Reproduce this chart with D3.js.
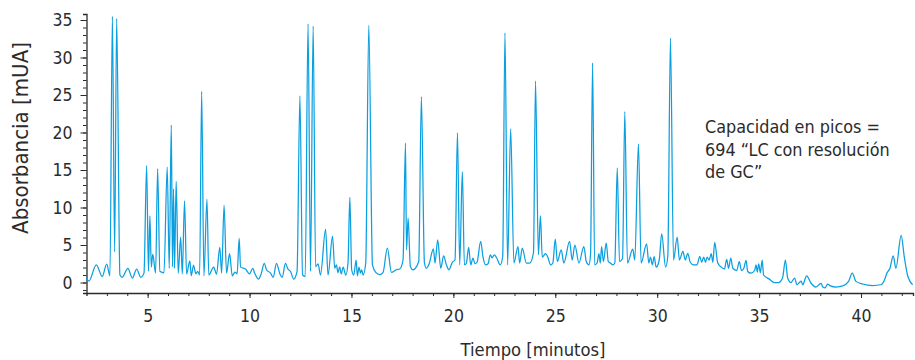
<!DOCTYPE html>
<html>
<head>
<meta charset="utf-8">
<script src="https://cdn.jsdelivr.net/npm/d3@7/dist/d3.min.js"></script>
<style>
  body { margin: 0; background: #fff; }
  svg text { font-family: 'Liberation Sans Narrow', 'DejaVu Sans Condensed', sans-serif; fill: #2b2b2b; }
</style>
</head>
<body>
<div id="chart"></div>
<script>
// retention time (min) and absorbance (mUA)
const times = [
  2.00, 2.12, 2.48, 2.77, 2.99, 3.15, 3.27, 3.38, 3.48, 3.64, 3.75, 4.03, 4.25, 4.46, 4.66, 4.82,
  4.95, 5.04, 5.11, 5.18, 5.25, 5.39, 5.49, 5.60, 5.80, 5.96, 6.06, 6.16, 6.22, 6.27, 6.32, 6.40,
  6.50, 6.62, 6.70, 6.81, 6.91, 7.07, 7.14, 7.25, 7.37, 7.45, 7.55, 7.65, 7.76, 7.91, 8.00, 8.24,
  8.38, 8.54, 8.63, 8.75, 8.87, 9.02, 9.15, 9.29, 9.39, 9.49, 9.56, 9.80, 10.00, 10.16, 10.25, 10.44,
  10.57, 10.72, 10.83, 11.03, 11.16, 11.32, 11.49, 11.60, 11.76, 11.88, 12.01, 12.17, 12.33, 12.47,
  12.60, 12.73, 12.87, 12.99, 13.12, 13.24, 13.36, 13.48, 13.73, 13.85, 14.07, 14.18, 14.26, 14.34,
  14.42, 14.50, 14.59, 14.72, 14.83, 14.92, 15.01, 15.11, 15.23, 15.29, 15.37, 15.44, 15.50, 15.57,
  15.70, 15.85, 16.03, 16.19, 16.39, 16.55, 16.76, 16.96, 17.20, 17.37, 17.53, 17.65, 17.70, 17.78,
  17.89, 18.02, 18.30, 18.43, 18.58, 18.68, 18.80, 19.02, 19.10, 19.23, 19.38, 19.52, 19.66, 19.78,
  19.95, 20.08, 20.20, 20.31, 20.44, 20.54, 20.64, 20.75, 20.85, 20.96, 21.06, 21.16, 21.34, 21.45,
  21.58, 21.70, 21.81, 21.90, 22.01, 22.12, 22.30, 22.42, 22.53, 22.66, 22.81, 22.97, 23.17, 23.25,
  23.38, 23.58, 23.75, 23.93, 24.03, 24.17, 24.27, 24.36, 24.44, 24.52, 24.63, 24.77, 24.88, 25.00,
  25.10, 25.29, 25.42, 25.70, 25.83, 25.96, 26.16, 26.40, 26.52, 26.65, 26.73, 26.83, 26.93, 27.05,
  27.14, 27.21, 27.27, 27.36, 27.50, 27.60, 27.70, 27.82, 27.92, 28.04, 28.15, 28.30, 28.41, 28.54,
  28.80, 28.90, 29.08, 29.21, 29.48, 29.59, 29.67, 29.76, 29.85, 29.95, 30.10, 30.22, 30.41, 30.52,
  30.65, 30.80, 30.98, 31.09, 31.26, 31.38, 31.50, 31.62, 31.79, 31.95, 32.09, 32.18, 32.28, 32.37,
  32.45, 32.55, 32.65, 32.73, 32.82, 32.97, 33.14, 33.30, 33.41, 33.50, 33.61, 33.71, 33.90, 34.03,
  34.13, 34.25, 34.36, 34.44, 34.60, 34.78, 34.85, 34.91, 34.98, 35.06, 35.15, 35.22, 35.50, 35.75,
  35.96, 36.15, 36.29, 36.40, 36.56, 36.74, 36.86, 37.06, 37.14, 37.33, 37.55, 37.79, 38.04, 38.12,
  38.24, 38.36, 38.50, 38.77, 39.10, 39.39, 39.57, 39.75, 40.08, 40.57, 40.98, 41.14, 41.27, 41.42,
  41.58, 41.71, 41.97, 42.12, 42.28, 42.53
];
const absorbance = [
  0.6, 0.2, 2.36, 0.8, 2.45, 0.9, 35.5, 4.1, 35.2, 1.0, 0.7, 1.9, 0.6, 1.8, 0.7, 1.25,
  15.6, 1.5, 8.9, 2.05, 3.8, 1.25, 15.2, 1.5, 1.3, 15.4, 1.9, 21.0, 2.1, 12.5, 1.9, 13.5,
  1.25, 6.05, 1.15, 10.9, 1.15, 2.9, 0.9, 2.3, 1.15, 1.5, 1.0, 25.5, 0.9, 11.1, 1.0, 2.05,
  1.1, 4.7, 1.25, 10.3, 1.25, 3.85, 0.9, 1.4, 1.15, 5.9, 2.05, 1.8, 1.15, 1.9, 1.25, 0.45,
  1.15, 2.55, 1.7, 1.25, 0.7, 2.55, 1.15, 0.7, 2.55, 1.8, 1.47, 0.45, 1.47, 24.9,
  1.0, 0.8, 34.5, 1.47, 34.2, 2.1, 2.5, 1.0, 7.1, 1.0, 6.15, 1.9, 2.35, 1.3,
  2.1, 1.15, 2.05, 1.0, 2.6, 11.35, 1.7, 1.0, 3.0, 0.9, 2.05, 1.25, 1.7, 1.0,
  2.6, 34.3, 2.35, 1.35, 1.05, 1.35, 4.6, 1.35, 1.7, 1.8, 3.0, 18.6, 4.35, 8.6,
  2.1, 1.7, 2.8, 24.75, 2.6, 1.9, 2.4, 4.5, 2.6, 5.7, 1.9, 3.55, 2.35, 1.7,
  2.7, 3.0, 19.95, 2.35, 14.8, 2.35, 2.6, 4.7, 2.35, 3.25, 2.5, 2.7, 5.5, 3.45,
  2.35, 2.5, 3.7, 3.3, 3.7, 3.3, 2.35, 3.5, 33.3, 2.35, 20.5, 2.6, 4.8, 2.6,
  4.6, 2.6, 2.6, 4.0, 26.85, 3.7, 8.9, 3.4, 3.6, 3.85, 3.4, 2.35, 2.6, 5.8,
  2.8, 4.35, 2.6, 5.5, 3.0, 5.0, 2.6, 4.8, 2.8, 2.35, 3.8, 29.3, 2.35, 2.6,
  3.85, 2.6, 4.8, 2.8, 5.25, 2.8, 2.6, 2.35, 2.6, 15.3, 2.8, 3.2, 22.8, 2.6,
  4.45, 3.0, 18.5, 2.6, 5.15, 2.6, 3.4, 2.35, 3.45, 2.05, 3.0, 6.5, 2.05, 3.5,
  32.6, 3.0, 6.05, 3.0, 4.15, 3.0, 3.9, 2.7, 2.35, 2.35, 3.5, 2.7, 3.4, 2.7,
  3.4, 3.0, 3.85, 2.7, 5.35, 2.6, 2.05, 1.8, 3.1, 1.9, 3.25, 1.9, 1.6, 2.8,
  1.6, 1.9, 2.95, 1.47, 1.25, 1.6, 2.35, 1.4, 2.5, 1.3, 3.0, 1.0, 0.45, 0.0,
  0.0, 0.6, 3.0, 0.6, 0.0, 0.6, -0.3, 0.2, -0.3, 0.9, -0.1, -0.6, -0.1, -0.6,
  -0.7, -0.2, -0.45, -0.6, -0.45, 0.15, 1.25, 0.15, -0.2, -0.4, -0.3, 0.27, 1.25, 1.9,
  3.55, 1.9, 6.3, 3.45, 1.0, -0.3
];
const xTickValues = [5, 10, 15, 20, 25, 30, 35, 40];
const yTickValues = [0, 5, 10, 15, 20, 25, 30, 35];
const xMinorTicks = d3.range(3, 43);
const yMinorTicks = d3.range(-1, 36);
const noteLines = ['Capacidad en picos =', '694 \u201cLC con resolución', 'de GC\u201d'];

const width = 915, height = 360;
const margin = { top: 14, right: 2, bottom: 67, left: 86.5 };

const svg = d3.select('#chart').append('svg')
  .attr('width', width)
  .attr('height', height);

const x = d3.scaleLinear()
  .domain([2, 42.55])
  .range([margin.left, width - margin.right]);

const y = d3.scaleLinear()
  .domain([-1.4, 35.8])
  .range([height - margin.bottom, margin.top]);

const axisColor = '#2b2b2b';

// shrink or grow a text so it spans roughly the width seen in the original
function fitText(sel, targetWidth) {
  const node = sel.node();
  const size = parseFloat(sel.style('font-size'));
  const w = node.getComputedTextLength();
  if (w > 0) sel.style('font-size', (size * targetWidth / w).toFixed(2) + 'px');
}

// x axis: minor ticks then labelled major ticks
const gx = svg.append('g').attr('transform', `translate(0,${y(-1.4)})`);
gx.call(d3.axisBottom(x).tickValues(xMinorTicks).tickSize(3).tickFormat(''));
gx.call(g => g.append('g').call(d3.axisBottom(x).tickValues(xTickValues).tickSize(5).tickPadding(12).tickFormat(d3.format('d'))));

// y axis
const gy = svg.append('g').attr('transform', `translate(${margin.left},0)`);
gy.call(d3.axisLeft(y).tickValues(yMinorTicks).tickSize(3.5).tickFormat(''));
gy.call(g => g.append('g').call(d3.axisLeft(y).tickValues(yTickValues).tickSize(6).tickPadding(8).tickFormat(d3.format('d'))));

svg.selectAll('.domain').attr('stroke', axisColor).attr('stroke-width', 1.3);
svg.selectAll('.tick line').attr('stroke', axisColor).attr('stroke-width', 1);
svg.selectAll('.tick text').style('font-size', '17.5px').attr('fill', axisColor);
svg.selectAll('g > g > .domain').remove();

// trace
const points = times.map((t, i) => [t, absorbance[i]]);
svg.append('path')
  .datum(points)
  .attr('fill', 'none')
  .attr('stroke', '#0a9fe0')
  .attr('stroke-width', 1.25)
  .attr('stroke-linejoin', 'round')
  .attr('d', d3.line().x(d => x(d[0])).y(d => y(d[1])).curve(d3.curveMonotoneX));

// axis titles
const xTitle = svg.append('text')
  .attr('x', 533)
  .attr('y', 356)
  .attr('text-anchor', 'middle')
  .style('font-size', '17px')
  .text('Tiempo [minutos]');
fitText(xTitle, 145);

const yTitle = svg.append('text')
  .attr('transform', 'translate(28,138) rotate(-90)')
  .attr('text-anchor', 'middle')
  .style('font-size', '17px')
  .text('Absorbancia [mUA]');
fitText(yTitle, 192);

// annotation
const note = svg.append('text')
  .attr('x', 705)
  .attr('y', 133)
  .style('font-size', '18.5px');
note.selectAll('tspan')
  .data(noteLines)
  .enter()
  .append('tspan')
  .attr('x', 705)
  .attr('dy', (d, i) => i === 0 ? 0 : 22.5)
  .text(d => d);
// fit on the first line only
const firstLine = note.select('tspan');
const w0 = firstLine.node().getComputedTextLength();
note.style('font-size', (18.5 * 175 / w0).toFixed(2) + 'px');
</script>
</body>
</html>
